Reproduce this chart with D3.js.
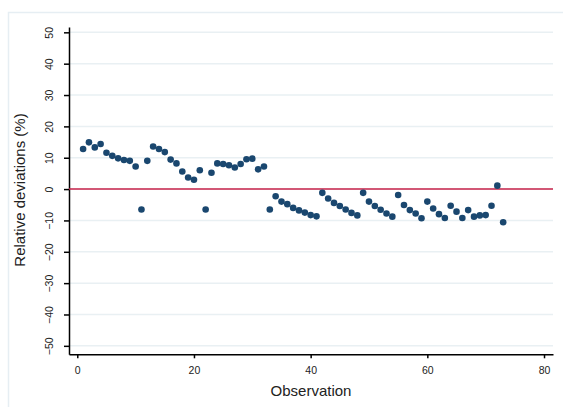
<!DOCTYPE html>
<html>
<head>
<meta charset="utf-8">
<script src="https://cdn.jsdelivr.net/npm/d3@7"></script>
<style>
    body { margin: 0; background: white; }
    text { font-family: "Liberation Sans", Arial, sans-serif; }
</style>
</head>
<body>
<script>
// relative deviations (%) per observation, 1..73
const deviations = [
    12.8, 14.9, 13.3, 14.4, 11.6, 10.6, 9.8, 9.3, 9.0, 7.2,
    -6.5, 9.0, 13.6, 12.8, 11.8, 9.4, 8.2, 5.6, 3.7, 3.0,
    6.0, -6.5, 5.2, 8.2, 8.0, 7.6, 6.9, 8.0, 9.5, 9.7,
    6.3, 7.2, -6.5, -2.3, -4.0, -4.8, -6.0, -6.8, -7.5, -8.3,
    -8.7, -1.2, -3.0, -4.4, -5.4, -6.5, -7.6, -8.4, -1.2, -4.0,
    -5.4, -6.6, -7.8, -8.8, -1.9, -5.1, -6.7, -7.8, -9.3, -4.0,
    -6.2, -8.0, -9.2, -5.3, -7.2, -9.2, -6.7, -8.8, -8.4, -8.3,
    -5.3, 1.1, -10.6
];
const observations = deviations.map((d, i) => i + 1);
const xTicks = [0, 20, 40, 60, 80];
const yTicks = [-50, -40, -30, -20, -10, 0, 10, 20, 30, 40, 50];
const xTitle = 'Observation';
const yTitle = 'Relative deviations (%)';

window.onload = () => {
    const width = 563;
    const height = 407;

    const svg = d3.select('body')
                  .append('svg')
                  .attr('width', width)
                  .attr('height', height);

    // outer frame of the graph region
    svg.append('rect')
        .attr('x', 8.5)
        .attr('y', 12.5)
        .attr('width', 600)
        .attr('height', 450)
        .style('fill', 'white')
        .style('stroke', '#e6eef3')
        .style('stroke-width', '1.5px');

    const x = d3.scaleLinear().domain([-1.42, 81.54]).range([69, 553]);
    const y = d3.scaleLinear().domain([-52.7, 51.7]).range([354.3, 27]);

    // gridlines
    svg.append('g')
        .selectAll('line')
        .data(yTicks)
        .enter()
        .append('line')
        .attr('x1', x.range()[0])
        .attr('x2', x.range()[1])
        .attr('y1', d => y(d))
        .attr('y2', d => y(d))
        .style('stroke', '#e9f0f3')
        .style('stroke-width', '1.5px');

    // y axis
    const yAxis = svg.append('g')
        .attr('transform', `translate(${x.range()[0]},0)`)
        .call(d3.axisLeft(y).tickValues(yTicks).tickSize(5).tickSizeOuter(0));
    yAxis.select('.domain').style('stroke', 'black').style('stroke-width', '1.5px');
    yAxis.selectAll('.tick line').style('stroke', 'black').style('stroke-width', '1.5px');
    yAxis.selectAll('.tick text')
        .attr('transform', 'rotate(-90)')
        .attr('x', 0)
        .attr('dy', '0.32em')
        .attr('y', -19)
        .attr('text-anchor', 'middle')
        .style('font-size', '10.5px')
        .style('fill', '#222');

    // x axis
    const xAxis = svg.append('g')
        .attr('transform', `translate(0,${y.range()[0]})`)
        .call(d3.axisBottom(x).tickValues(xTicks).tickSize(4).tickSizeOuter(0).tickPadding(8));
    xAxis.select('.domain').style('stroke', 'black').style('stroke-width', '1.5px');
    xAxis.selectAll('.tick line').style('stroke', 'black').style('stroke-width', '1.5px');
    xAxis.selectAll('.tick text')
        .style('font-size', '10.5px')
        .style('fill', '#222');

    // zero reference line
    svg.append('line')
        .attr('x1', x.range()[0])
        .attr('x2', x.range()[1])
        .attr('y1', y(0))
        .attr('y2', y(0))
        .style('stroke', '#c8234a')
        .style('stroke-width', '1.5px');

    // points
    svg.append('g')
        .selectAll('circle')
        .data(deviations)
        .enter()
        .append('circle')
        .attr('cx', (d, i) => x(observations[i]))
        .attr('cy', d => y(d))
        .attr('r', 3.3)
        .style('fill', '#1a476f');

    // titles
    svg.append('text')
        .text(xTitle)
        .attr('x', 311)
        .attr('y', 396)
        .attr('text-anchor', 'middle')
        .style('font-size', '15px')
        .style('fill', '#222');

    svg.append('text')
        .text(yTitle)
        .attr('transform', 'translate(25,190) rotate(-90)')
        .attr('text-anchor', 'middle')
        .style('font-size', '15px')
        .style('fill', '#222');
};
</script>
</body>
</html>
